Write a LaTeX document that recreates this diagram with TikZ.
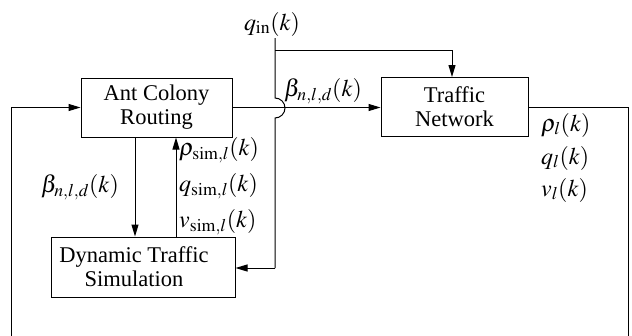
\documentclass[tikz,border=0pt]{standalone}
\usepackage{mathptmx}
\usepackage{fontspec}
\setmainfont{Liberation Serif}
\usetikzlibrary{arrows.meta}
\tikzset{
  blk/.style={draw, line width=1pt, minimum width=#1, inner sep=0pt, align=center, font=\fontsize{22.5}{24}\selectfont},
  txt/.style={inner sep=0pt, align=center, font=\fontsize{22.5}{24}\selectfont},
  lab/.style={inner sep=0pt, font=\fontsize{24}{26}\selectfont},
  conn/.style={line width=1pt},
  arr/.style={conn, -{Triangle[length=12pt,width=7pt]}}
}
\begin{document}
\begin{tikzpicture}[x=1pt,y=-1pt]
\useasboundingbox (0,0) rectangle (632,335);
\node[blk=151pt, minimum height=59pt] (acr) at (156.5,107.5) {Ant Colony\\Routing};
\node[blk=147pt, minimum height=59pt] (tn) at (454.5,107) {Traffic\\Network};
\node[blk=184pt, minimum height=60pt] (dts) at (143,267) {};
\node[txt] (dtstext) at (134,267) {Dynamic Traffic\\Simulation};
% q_in
\node[lab] (qin) at (272,24) {$q_{\mathrm{in}}(k)$};
\coordinate (qs) at (275,38);
\coordinate (qsplit) at (275,50);
\draw[conn] (qs) -- (275,98) arc[start angle=90,end angle=-90,radius=10pt] -- (275,268) coordinate (qdown);
\draw[arr] (qdown) -- (dts.east |- qdown);
\draw[arr] (qsplit) -| ([xshift=-2.5pt]tn.north);
% ant colony to traffic network
\draw[arr] (acr.east) -- (tn.west |- acr.east);
\node[lab, anchor=west] (beta1) at (284,91) {$\beta_{n,l,d}(k)$};
% ant colony to simulation
\draw[arr] ([xshift=-21.5pt]acr.south) -- ([xshift=-21.5pt]acr.south |- dts.north);
\node[lab] (beta2) at (80,187) {$\beta_{n,l,d}(k)$};
% simulation to ant colony
\draw[arr] ([xshift=33pt]dts.north) -- ([xshift=33pt]dts.north |- acr.south);
\node[lab, anchor=west] (rs) at (179,150) {$\rho_{\mathrm{sim},l}(k)$};
\node[lab, anchor=west] (qsim) at (179,186) {$q_{\mathrm{sim},l}(k)$};
\node[lab, anchor=west] (vs) at (179,222) {$v_{\mathrm{sim},l}(k)$};
% feedback loop
\draw[arr] (tn.east) -- (628,107) -- (628,345) -- (11,345) -- (11,107.5) -- (acr.west);
\node[lab, anchor=west] (rl) at (541,125) {$\rho_l(k)$};
\node[lab, anchor=west] (ql) at (541,158) {$q_l(k)$};
\node[lab, anchor=west] (vl) at (541,190) {$v_l(k)$};
\end{tikzpicture}
\end{document}
